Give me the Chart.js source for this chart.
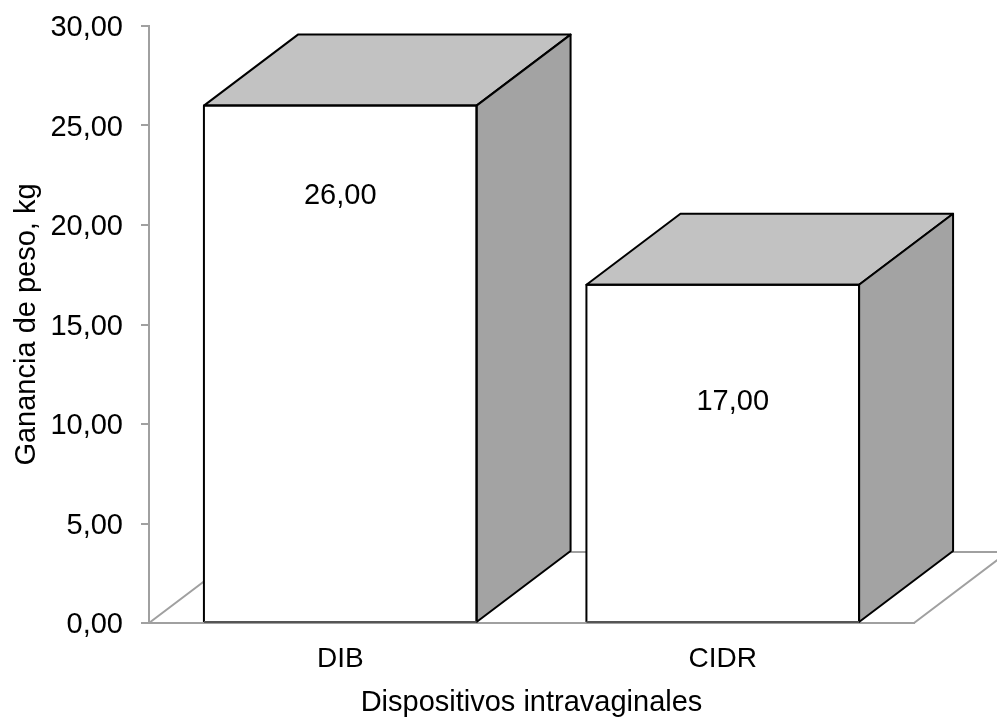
<!DOCTYPE html>
<html>
<head>
<meta charset="utf-8">
<style>
  html, body { margin: 0; padding: 0; background: #fff; }
  canvas { display: block; }
</style>
<script src="https://cdn.jsdelivr.net/npm/chart.js@4"></script>
</head>
<body>
<canvas id="chart" width="997" height="718"></canvas>
<script>
  const categories = ["DIB", "CIDR"];
  const gainValues = [26, 17];
  const tickLabels = ["0,00", "5,00", "10,00", "15,00", "20,00", "25,00", "30,00"];

  const FONT = "'Liberation Sans', Arial, sans-serif";
  const AXIS = "#a0a0a0";
  const DEPTH_X = 94;
  const DEPTH_Y = 71;
  // data labels were placed by hand in the original
  const LABEL_DROP = [90, 117];
  const LABEL_SHIFT = [0, 10];

  function poly(ctx, pts, fill) {
    ctx.beginPath();
    pts.forEach((p, i) => (i ? ctx.lineTo(p[0], p[1]) : ctx.moveTo(p[0], p[1])));
    ctx.closePath();
    ctx.fillStyle = fill;
    ctx.fill();
    ctx.stroke();
  }

  // ------ floor behind the bars ------
  const floorPlugin = {
    id: "floor",
    beforeDatasetsDraw(chart) {
      const { ctx, chartArea: a } = chart;
      ctx.save();
      ctx.strokeStyle = AXIS;
      ctx.lineWidth = 2;
      ctx.beginPath();
      ctx.moveTo(a.left, a.bottom);
      ctx.lineTo(a.left + DEPTH_X, a.bottom - DEPTH_Y);
      ctx.lineTo(a.right + DEPTH_X, a.bottom - DEPTH_Y);
      ctx.moveTo(a.right, a.bottom);
      ctx.lineTo(a.right + DEPTH_X, a.bottom - DEPTH_Y);
      ctx.stroke();
      ctx.restore();
    }
  };

  // ------ 3D faces + value labels ------
  const boxPlugin = {
    id: "box",
    afterDatasetsDraw(chart) {
      const { ctx } = chart;
      chart.getDatasetMeta(0).data.forEach((bar, i) => {
        const l = bar.x - bar.width / 2;
        const r = bar.x + bar.width / 2;
        const t = bar.y;
        const b = bar.base;
        ctx.save();
        ctx.strokeStyle = "#000";
        ctx.lineWidth = 2;
        ctx.lineJoin = "round";
        poly(ctx, [[l, t], [l + DEPTH_X, t - DEPTH_Y], [r + DEPTH_X, t - DEPTH_Y], [r, t]], "#c2c2c2");
        poly(ctx, [[r, t], [r + DEPTH_X, t - DEPTH_Y], [r + DEPTH_X, b - DEPTH_Y], [r, b]], "#a3a3a3");

        // front outline, the bottom edge is softer than the rest
        ctx.beginPath();
        ctx.moveTo(l, b);
        ctx.lineTo(l, t);
        ctx.lineTo(r, t);
        ctx.lineTo(r, b);
        ctx.stroke();
        ctx.strokeStyle = "#555";
        ctx.beginPath();
        ctx.moveTo(l, b);
        ctx.lineTo(r, b);
        ctx.stroke();

        ctx.fillStyle = "#000";
        ctx.font = "29px " + FONT;
        ctx.textAlign = "center";
        ctx.textBaseline = "middle";
        ctx.fillText(gainValues[i].toFixed(2).replace(".", ","), bar.x + LABEL_SHIFT[i], t + LABEL_DROP[i]);
        ctx.restore();
      });
    }
  };

  new Chart(document.getElementById("chart"), {
    type: "bar",
    data: {
      labels: categories,
      datasets: [{
        data: gainValues,
        backgroundColor: "#fff",
        borderWidth: 0,
        barPercentage: 0.7128,
        categoryPercentage: 1
      }]
    },
    options: {
      responsive: false,
      animation: false,
      layout: { padding: { top: 26, right: 83, left: 0, bottom: 0 } },
      plugins: { legend: { display: false }, tooltip: { enabled: false } },
      scales: {
        x: {
          grid: { display: false },
          border: { color: AXIS, width: 2 },
          ticks: { color: "#000", font: { family: FONT, size: 28 }, padding: 11 },
          title: {
            display: true,
            text: "Dispositivos intravaginales",
            color: "#000",
            font: { family: FONT, size: 29, lineHeight: 1.05 },
            padding: { top: 5, bottom: 0 }
          },
          afterFit(scale) { scale.height = 95; }
        },
        y: {
          min: 0,
          max: 30,
          grid: { drawOnChartArea: false, color: AXIS, lineWidth: 2, tickLength: 8 },
          border: { color: AXIS, width: 2 },
          ticks: {
            stepSize: 5,
            color: "#000",
            font: { family: FONT, size: 29 },
            padding: 18,
            labelOffset: 2,
            callback: (value, i) => tickLabels[i]
          },
          title: {
            display: true,
            text: "Ganancia de peso, kg",
            color: "#000",
            font: { family: FONT, size: 29 },
            padding: { top: 10, bottom: 0 }
          },
          afterFit(scale) {
            scale.width = 149;
            // don't let the half tick label push the plot area down
            scale.paddingTop = 0;
            scale.paddingBottom = 0;
          }
        }
      }
    },
    plugins: [floorPlugin, boxPlugin]
  });
</script>
</body>
</html>
